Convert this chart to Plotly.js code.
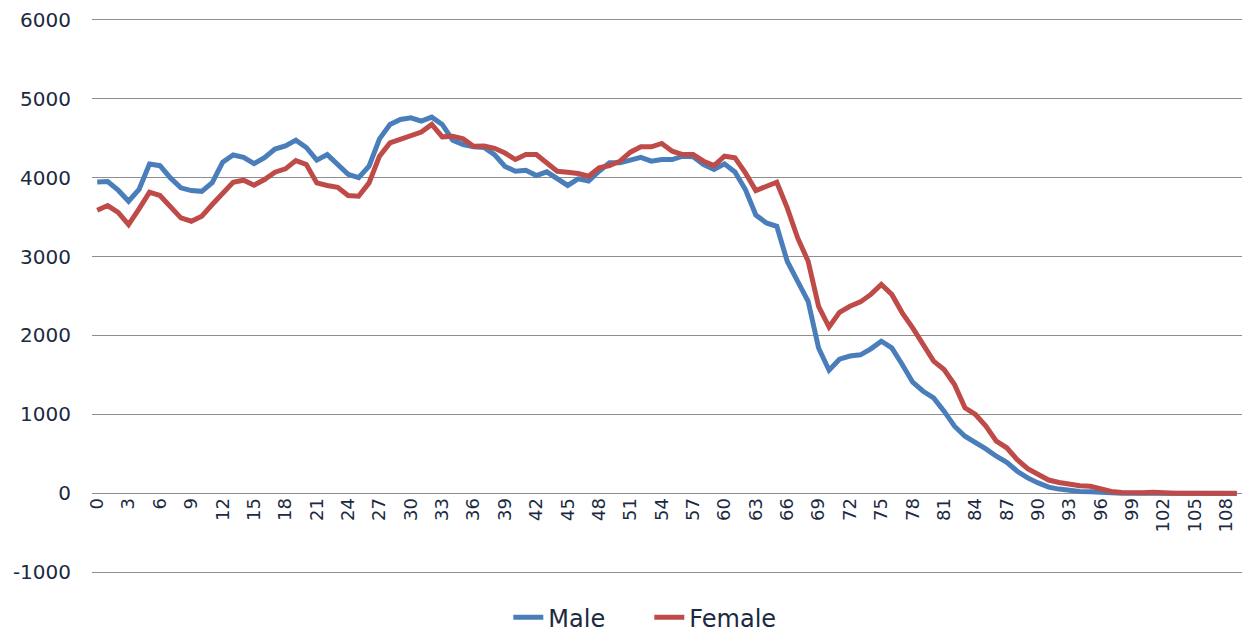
<!DOCTYPE html>
<html>
<head>
<meta charset="utf-8">
<script src="https://cdn.plot.ly/plotly-3.0.1.min.js"></script>
<style>
html,body{margin:0;padding:0;background:#fff;}
#chart{width:1242px;height:641px;}
</style>
</head>
<body>
<div id="chart"></div>
<script>
const ages = [0,1,2,3,4,5,6,7,8,9,10,11,12,13,14,15,16,17,18,19,20,21,22,23,24,25,26,27,28,29,30,31,32,33,34,35,36,37,38,39,40,41,42,43,44,45,46,47,48,49,50,51,52,53,54,55,56,57,58,59,60,61,62,63,64,65,66,67,68,69,70,71,72,73,74,75,76,77,78,79,80,81,82,83,84,85,86,87,88,89,90,91,92,93,94,95,96,97,98,99,100,101,102,103,104,105,106,107,108,109];

const male = [3945,3950,3840,3700,3850,4170,4150,3995,3870,3835,
  3825,3935,4195,4285,4255,4175,4250,4360,4400,4473,
  4380,4220,4290,4165,4040,3998,4144,4490,4672,4735,
  4756,4714,4765,4672,4473,4418,4390,4380,4290,4140,
  4080,4093,4025,4072,3983,3900,3983,3955,4080,4186,
  4186,4215,4255,4207,4228,4228,4270,4262,4165,4101,
  4173,4070,3848,3525,3425,3383,2940,2686,2433,1841,
  1560,1700,1740,1755,1831,1928,1844,1632,1409,1294,
  1210,1042,851,724,648,564,471,395,281,197,
  133,80,55,38,25,20,10,5,3,2,
  2,1,1,0,0,0,0,0,0,0];

const female = [3586,3645,3560,3404,3603,3814,3772,3628,3489,3447,
  3510,3658,3806,3941,3966,3903,3975,4068,4110,4215,
  4165,3932,3899,3877,3772,3763,3932,4270,4439,4490,
  4524,4575,4672,4515,4524,4490,4397,4400,4370,4310,
  4228,4291,4291,4186,4080,4068,4051,4017,4123,4152,
  4207,4321,4389,4389,4431,4334,4291,4291,4207,4152,
  4270,4249,4059,3835,3890,3941,3616,3235,2940,2369,
  2107,2293,2370,2425,2520,2646,2520,2287,2097,1886,
  1675,1569,1379,1084,1000,852,662,578,428,315,
  237,170,139,114,97,90,55,25,13,8,
  8,15,5,4,3,3,4,3,2,1];

const xTickVals = [0,3,6,9,12,15,18,21,24,27,30,33,36,39,42,45,48,51,54,57,60,63,66,69,72,75,78,81,84,87,90,93,96,99,102,105,108];
const xTickText = ["0","3","6","9","12","15","18","21","24","27","30","33","36","39","42","45","48","51","54","57","60","63","66","69","72","75","78","81","84","87","90","93","96","99","102","105","108"];
const yTickVals = [-1000,0,1000,2000,3000,4000,5000,6000];
const yTickText = ["-1000","0","1000","2000","3000","4000","5000","6000"];

const textColor = '#1b2a41';
const fontFam = 'DejaVu Sans, Arial, sans-serif';

const traces = [
  {x: ages, y: male, name: 'Male', type: 'scatter', mode: 'lines',
   line: {color: '#4a7ebb', width: 5}},
  {x: ages, y: female, name: 'Female', type: 'scatter', mode: 'lines',
   line: {color: '#be4b48', width: 5}}
];

const layout = {
  width: 1242, height: 641,
  margin: {l: 92, r: 0, t: 18, b: 67},
  paper_bgcolor: '#fff', plot_bgcolor: '#fff',
  font: {family: fontFam, color: textColor},
  showlegend: true,
  legend: {orientation: 'h', x: 0.362, xanchor: 'left', y: -0.119, yanchor: 'bottom',
           font: {size: 24, color: textColor, family: fontFam},
           entrywidth: 96, entrywidthmode: 'pixels', traceorder: 'normal'},
  xaxis: {type: 'linear', range: [-0.5, 109.5], anchor: 'free', position: 1020/7040,
          showgrid: false, zeroline: false, showline: false, ticks: '',
          tickmode: 'array', tickvals: xTickVals, ticktext: xTickText,
          tickangle: -90, tickfont: {size: 18, color: textColor, family: fontFam},
          automargin: false, fixedrange: true},
  yaxis: {range: [-1020, 6020], tickmode: 'array', tickvals: yTickVals, ticktext: yTickText,
          showgrid: true, gridcolor: '#8e8e8e', gridwidth: 1.5,
          zeroline: true, zerolinecolor: '#8e8e8e', zerolinewidth: 1.5,
          showline: false, ticks: '', ticklabelstandoff: 20,
          tickfont: {size: 20, color: textColor, family: fontFam},
          automargin: false, fixedrange: true}
};

Plotly.newPlot('chart', traces, layout, {displayModeBar: false, staticPlot: true});
</script>
</body>
</html>
